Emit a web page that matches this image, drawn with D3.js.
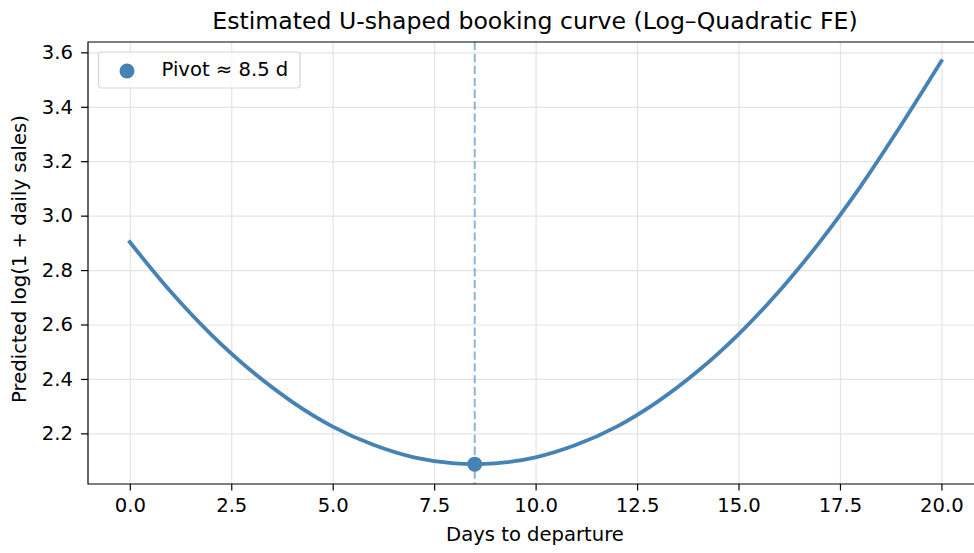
<!DOCTYPE html>
<html>
<head>
<meta charset="utf-8">
<script src="https://cdn.jsdelivr.net/npm/d3@7"></script>
<style>
  body { margin: 0; background: #fff; }
  svg { display: block; overflow: hidden; }
  text { font-family: "DejaVu Sans", sans-serif; fill: #000; }
  .grid line { stroke: #e3e3e3; stroke-width: 1.2; }
  .grid .domain { display: none; }
</style>
</head>
<body>
<div id="d3-container"></div>
<script>
/* CONSTANTS AND GLOBALS */
const width = 974,
  height = 553,
  margin = { top: 42, bottom: 69, left: 88, right: -8 },
  color = "steelblue",
  fontSize = "19.6px";

/* DATA */
const days = [0, 1, 2, 3, 4, 5, 6, 7, 8, 9, 10, 11, 12, 13, 14, 15, 16, 17, 18, 19, 20];
const predicted = [2.903, 2.722, 2.564, 2.429, 2.316, 2.225, 2.158, 2.112, 2.090, 2.090,
  2.112, 2.158, 2.225, 2.316, 2.429, 2.564, 2.722, 2.903, 3.106, 3.331, 3.568];
const pivotDay = 8.5;
const pivotValue = 2.087;
const xTicks = [0, 2.5, 5, 7.5, 10, 12.5, 15, 17.5, 20];
const yTicks = [2.2, 2.4, 2.6, 2.8, 3.0, 3.2, 3.4, 3.6];

let svg, xScale, yScale;

init();

function init() {
  const data = days.map((d, i) => ({ day: d, value: predicted[i] }));

  // + SCALES
  xScale = d3.scaleLinear()
    .domain([-1.03, 21])
    .range([margin.left, width - margin.right]);

  yScale = d3.scaleLinear()
    .domain([2.014, 3.638])
    .range([height - margin.bottom, margin.top]);

  svg = d3.select("#d3-container")
    .append("svg")
    .attr("width", width)
    .attr("height", height);

  const x0 = margin.left, x1 = width - margin.right;
  const y0 = height - margin.bottom, y1 = margin.top;

  // gridlines
  svg.append("g")
    .attr("class", "grid")
    .attr("transform", `translate(0,${y0})`)
    .call(d3.axisBottom(xScale).tickValues(xTicks).tickSize(-(y0 - y1)).tickFormat(""));

  svg.append("g")
    .attr("class", "grid")
    .attr("transform", `translate(${x0},0)`)
    .call(d3.axisLeft(yScale).tickValues(yTicks).tickSize(-(x1 - x0)).tickFormat(""));

  // pivot guide
  svg.append("line")
    .attr("x1", xScale(pivotDay))
    .attr("x2", xScale(pivotDay))
    .attr("y1", y1)
    .attr("y2", y0)
    .attr("stroke", color)
    .attr("stroke-opacity", 0.6)
    .attr("stroke-width", 2)
    .attr("stroke-dasharray", "8.3,3.6");

  // curve
  const line = d3.line()
    .x(d => xScale(d.day))
    .y(d => yScale(d.value))
    .curve(d3.curveCatmullRom);

  svg.append("path")
    .datum(data)
    .attr("fill", "none")
    .attr("stroke", color)
    .attr("stroke-width", 3.8)
    .attr("stroke-linecap", "square")
    .attr("d", line);

  svg.append("circle")
    .attr("cx", xScale(pivotDay))
    .attr("cy", yScale(pivotValue))
    .attr("r", 7.5)
    .attr("fill", color);

  // + AXES
  const xAxis = svg.append("g")
    .attr("transform", `translate(0,${y0})`)
    .call(d3.axisBottom(xScale).tickValues(xTicks).tickSize(6.5).tickPadding(8).tickFormat(d3.format(".1f")));

  const yAxis = svg.append("g")
    .attr("transform", `translate(${x0},0)`)
    .call(d3.axisLeft(yScale).tickValues(yTicks).tickSize(7).tickPadding(8).tickFormat(d3.format(".1f")));

  [xAxis, yAxis].forEach(ax => {
    ax.select(".domain").remove();
    ax.selectAll(".tick line").attr("stroke", "#000").attr("stroke-width", 1.2);
    ax.selectAll(".tick text")
      .attr("fill", "#000")
      .style("font-family", "'DejaVu Sans', sans-serif")
      .style("font-size", fontSize);
  });

  // spines (left, bottom, top)
  svg.append("path")
    .attr("d", `M${x1},${y1}H${x0}V${y0}H${x1}`)
    .attr("fill", "none")
    .attr("stroke", "#000")
    .attr("stroke-width", 1.2);

  // + LABELS
  svg.append("text")
    .attr("x", (x0 + x1) / 2)
    .attr("y", 28.5)
    .attr("text-anchor", "middle")
    .style("font-size", "23.6px")
    .text("Estimated U-shaped booking curve (Log–Quadratic FE)");

  svg.append("text")
    .attr("x", (x0 + x1) / 2)
    .attr("y", 541)
    .attr("text-anchor", "middle")
    .style("font-size", fontSize)
    .text("Days to departure");

  svg.append("text")
    .attr("transform", `translate(25.5,259) rotate(-90)`)
    .attr("text-anchor", "middle")
    .style("font-size", fontSize)
    .text("Predicted log(1 + daily sales)");

  // + LEGEND
  const legend = svg.append("g").attr("transform", "translate(98.5,52)");
  legend.append("rect")
    .attr("width", 201.5)
    .attr("height", 36)
    .attr("rx", 3)
    .attr("fill", "#fff")
    .attr("fill-opacity", 0.8)
    .attr("stroke", "#d6d6d6")
    .attr("stroke-width", 1.2);
  legend.append("circle")
    .attr("cx", 28.5)
    .attr("cy", 19)
    .attr("r", 7.5)
    .attr("fill", color);
  legend.append("text")
    .attr("x", 63)
    .attr("y", 23.5)
    .style("font-size", fontSize)
    .text(`Pivot ≈ ${pivotDay} d`);
}
</script>
</body>
</html>
